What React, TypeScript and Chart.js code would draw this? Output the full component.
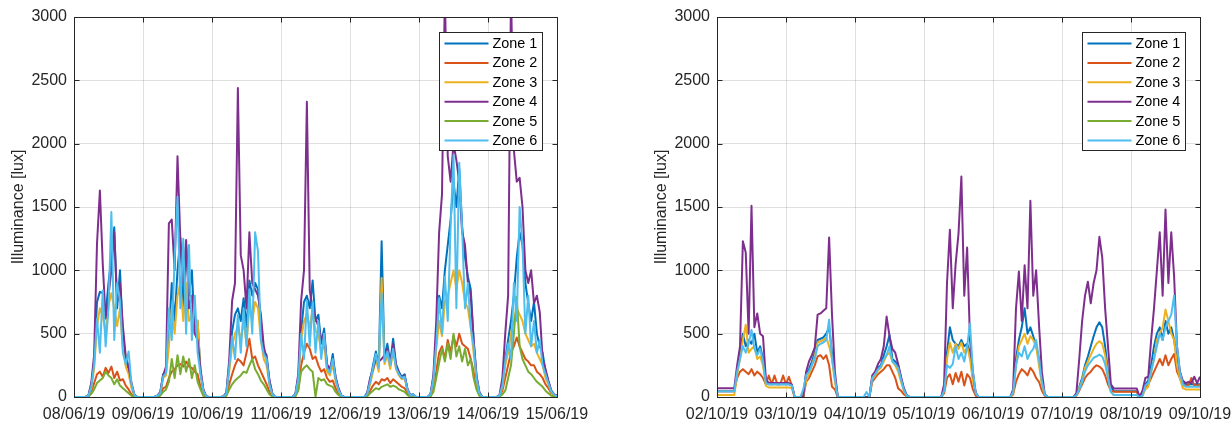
import React, { useEffect, useRef } from "react";
import { Chart, registerables } from "chart.js";

Chart.register(...registerables);

const FONT = '"Liberation Sans", Arial, Helvetica, sans-serif';
const AXIS_COLOR = "#262626";
const GRID_COLOR = "rgba(38,38,38,0.15)";

const zoneNames = ["Zone 1", "Zone 2", "Zone 3", "Zone 4", "Zone 5", "Zone 6"];
const zoneColors = ["#0072BD", "#D95319", "#EDB120", "#7E2F8E", "#77AC30", "#4DBEEE"];
const yAxisTitle = "Illuminance [lux]";
const yMax = 3000;
const yStep = 500;

const junDates = ["08/06/19", "09/06/19", "10/06/19", "11/06/19", "12/06/19", "13/06/19", "14/06/19", "15/06/19"];
const octDates = ["02/10/19", "03/10/19", "04/10/19", "05/10/19", "06/10/19", "07/10/19", "08/10/19", "09/10/19"];

// hourly readings (lux), one line per day
const jun_zone1 = [
  0,0,0,0,0,10,90,280,750,830,820,650,900,1100,1340,700,1000,480,300,220,90,15,0,0,
  0,0,0,0,0,10,30,180,200,480,900,600,1000,1260,700,1200,800,1000,500,600,200,50,5,0,
  0,0,0,0,5,30,250,520,650,700,600,780,550,920,800,900,850,600,360,330,120,25,0,0,
  0,0,0,0,0,20,150,520,750,800,700,920,600,650,420,540,250,200,340,150,60,10,0,0,
  0,0,0,0,0,0,30,130,250,360,250,1230,300,420,270,460,260,200,160,180,60,15,20,0,
  0,0,0,0,20,150,450,800,700,1000,1200,1400,1700,1500,1800,1350,1100,950,850,450,160,35,0,0,
  0,0,0,0,10,100,300,450,600,800,1100,1300,1200,900,740,600,750,500,400,350,200,120,50,20,10,
];
const jun_zone2 = [
  0,0,0,0,0,5,40,110,180,200,160,230,190,240,150,200,130,140,90,60,20,5,0,0,
  0,0,0,0,0,5,15,70,80,150,200,220,250,260,240,280,240,230,200,180,80,20,1,0,
  0,0,0,0,3,15,100,180,250,300,280,250,350,460,300,320,250,200,150,100,40,5,0,0,
  0,0,0,0,0,10,60,250,350,420,380,300,320,250,200,220,150,120,130,70,30,5,0,0,
  0,0,0,0,0,0,10,50,90,120,100,140,130,150,110,140,120,100,80,70,30,5,5,0,
  0,0,0,0,8,60,200,350,400,300,450,350,480,400,500,420,400,380,300,200,80,15,0,0,
  0,0,0,0,5,50,150,250,350,400,470,400,350,300,280,250,250,200,180,150,100,70,30,20,10,
];
const jun_zone3 = [
  0,0,0,0,0,8,70,220,560,700,640,500,720,820,700,560,700,380,240,180,70,10,0,0,
  0,0,0,0,0,8,25,150,170,400,700,500,800,900,600,900,600,650,500,605,180,40,3,0,
  0,0,0,0,4,25,200,400,500,550,450,600,420,700,600,750,700,450,300,250,90,15,0,0,
  0,0,0,0,0,15,120,450,600,650,550,700,520,500,350,420,200,170,260,120,50,8,0,0,
  0,0,0,0,0,0,20,100,200,300,200,940,260,330,220,360,220,170,140,150,50,10,15,0,
  0,0,0,0,15,120,380,600,480,750,800,900,1000,850,1000,900,750,700,550,350,130,25,0,0,
  0,0,0,0,8,80,250,350,500,600,700,650,600,500,450,400,420,350,300,250,150,100,40,15,5,
];
const jun_zone4 = [
  0,0,0,0,0,12,110,330,1210,1630,1050,620,800,1000,1300,760,900,560,320,240,110,20,0,0,
  0,0,0,0,0,10,40,170,240,1370,1400,1000,1900,1230,900,1240,700,800,500,450,220,60,6,0,
  0,0,0,0,5,35,300,760,900,2440,1120,1000,700,1300,900,850,800,650,400,300,130,25,0,0,
  0,0,0,0,0,25,180,760,1000,2330,840,700,620,560,450,500,260,220,300,160,70,12,0,0,
  0,0,0,0,0,0,35,150,220,300,280,300,330,380,260,420,250,190,150,170,60,15,20,0,
  0,0,0,0,25,170,600,1300,1600,3200,1900,1700,2000,1870,1700,1300,1200,900,800,450,170,40,0,0,
  0,0,0,0,15,150,500,800,3200,1950,1700,1730,1500,1000,900,1000,740,800,670,300,220,130,50,20,10,
];
const jun_zone5 = [
  0,0,0,0,0,3,25,60,110,130,150,200,170,150,100,140,90,70,50,30,10,3,0,0,
  0,0,0,0,0,3,10,40,60,120,300,150,330,180,320,200,300,150,250,120,60,10,0,0,
  0,0,0,0,2,10,60,100,130,150,170,200,190,250,300,220,180,130,100,60,20,3,0,0,
  0,0,0,0,0,5,50,200,230,250,220,200,0,150,130,140,100,90,80,40,15,3,0,0,
  0,0,0,0,0,0,5,30,50,70,60,80,90,100,80,90,80,60,50,40,15,3,0,0,
  0,0,0,0,5,40,150,270,380,280,420,300,500,320,400,280,380,250,300,150,60,10,0,0,
  0,0,0,0,3,20,50,150,250,500,790,400,300,250,200,180,150,120,100,80,50,30,10,5,0,
];
const jun_zone6 = [
  0,0,0,0,0,10,80,260,620,350,840,400,700,1460,450,900,760,350,260,360,100,15,0,0,
  0,0,0,0,0,10,30,160,190,700,450,1100,1580,700,1250,500,1200,450,800,350,180,50,5,0,
  0,0,0,0,4,25,240,480,300,650,350,700,400,850,500,1300,1150,450,340,300,100,20,0,0,
  0,0,0,0,0,20,140,500,300,760,400,750,350,600,300,500,230,190,300,140,55,10,0,0,
  0,0,0,0,0,0,25,120,230,340,230,820,280,360,250,380,230,180,150,160,55,12,20,0,
  0,0,0,0,20,140,420,780,500,950,600,1350,1910,700,1850,1320,700,900,550,400,150,30,0,0,
  0,0,0,0,10,90,280,420,300,900,600,1500,1200,500,800,400,600,350,450,250,180,110,45,20,5,
];

const oct_zone1 = [
  45,45,45,45,45,45,45,200,350,500,400,450,420,500,350,400,300,120,100,100,100,100,100,100,
  100,100,90,0,0,0,0,180,220,280,350,450,460,470,500,550,350,150,0,0,0,0,0,0,
  0,0,0,0,0,0,150,180,230,250,330,400,490,300,280,250,150,60,10,0,0,0,0,0,
  0,0,0,0,0,0,0,60,350,550,450,420,400,450,400,420,350,150,30,0,0,0,0,0,
  0,0,0,0,0,0,0,40,300,450,550,700,500,550,480,400,300,120,20,0,0,0,0,0,
  0,0,0,0,0,20,80,150,250,320,400,480,550,590,550,400,200,80,45,45,45,45,45,45,
  45,45,45,0,30,100,130,250,400,500,550,450,600,500,550,450,300,200,110,100,100,100,100,100,100,
];
const oct_zone2 = [
  45,45,45,45,45,45,45,150,200,220,200,180,220,170,200,180,150,100,170,100,170,100,100,170,
  100,160,90,0,0,0,0,120,150,200,250,320,330,300,330,250,80,60,0,0,0,0,0,0,
  0,0,0,0,0,0,120,150,180,200,220,250,250,200,150,68,50,20,5,0,0,0,0,0,
  0,0,0,0,0,0,0,30,150,180,100,190,120,200,90,180,150,60,10,0,0,0,0,0,
  0,0,0,0,0,0,0,20,120,180,220,200,170,230,200,150,120,50,10,0,0,0,0,0,
  0,0,0,0,0,10,50,100,150,180,200,230,250,240,220,170,100,50,42,42,42,42,42,42,
  42,42,42,0,30,80,100,150,200,250,300,250,330,250,300,340,200,150,90,90,90,150,90,90,100,
];
const oct_zone3 = [
  15,15,15,15,15,15,15,180,300,450,570,350,380,400,300,320,250,90,75,75,75,75,75,75,
  75,75,70,0,0,0,0,130,180,250,320,430,440,450,470,400,300,120,0,0,0,0,0,0,
  0,0,0,0,0,0,140,170,210,230,280,330,350,280,250,200,120,50,8,0,0,0,0,0,
  0,0,0,0,0,0,0,50,300,430,350,420,380,430,350,400,300,130,25,0,0,0,0,0,
  0,0,0,0,0,0,0,30,250,400,450,500,420,480,450,400,250,100,15,0,0,0,0,0,
  0,0,0,0,0,15,70,130,230,280,330,380,420,440,420,330,170,40,15,15,15,15,15,15,
  15,15,15,0,10,60,80,200,300,450,500,550,690,600,500,450,250,150,70,60,60,60,60,60,60,
];
const oct_zone4 = [
  70,70,70,70,70,70,70,250,400,1230,1140,500,1510,550,660,500,480,140,110,110,110,110,110,110,
  110,110,100,0,0,0,0,200,280,330,390,650,660,680,700,1260,650,200,0,0,0,0,0,0,
  0,0,0,0,0,0,170,200,260,300,400,635,480,380,350,260,160,70,15,0,0,0,0,0,
  0,0,0,0,0,0,0,100,900,1320,700,1050,1290,1740,800,1180,450,200,30,0,0,0,0,0,
  0,0,0,0,0,0,0,60,700,990,600,1040,700,1550,800,1000,570,200,20,0,0,0,0,0,
  0,0,0,0,0,30,300,600,800,910,740,900,1000,1265,1100,700,400,100,68,68,68,68,68,68,
  68,68,68,0,50,150,160,450,700,1000,1300,800,1480,900,1300,950,400,200,130,110,120,110,160,110,160,
];
const oct_zone5: (number | null)[] = [];
const oct_zone6 = [
  45,45,45,45,45,45,45,200,300,400,350,420,530,380,330,380,280,110,100,100,100,100,100,100,
  100,100,90,0,0,0,60,170,200,250,300,400,420,430,450,610,300,150,0,0,0,0,0,0,
  0,0,0,0,40,0,150,180,220,240,300,330,400,280,260,230,140,55,10,0,0,0,0,0,
  0,0,0,0,0,0,0,50,250,230,260,400,300,350,280,400,580,200,30,0,0,0,0,0,
  0,0,0,0,0,0,0,40,250,350,320,400,300,350,380,450,300,120,20,0,0,0,0,0,
  0,0,0,0,0,15,60,120,200,250,280,310,320,335,320,260,150,40,15,15,15,15,15,15,
  15,15,15,0,10,90,110,200,300,400,500,450,550,600,650,800,400,200,100,80,80,80,80,80,80,
];

const junSeries = [jun_zone1, jun_zone2, jun_zone3, jun_zone4, jun_zone5, jun_zone6];
const octSeries = [oct_zone1, oct_zone2, oct_zone3, oct_zone4, oct_zone5, oct_zone6];

const CANVAS_W = 588;
const CANVAS_H = 423;

const boxLegendPlugin = {
  id: "boxLegend",
  afterDatasetsDraw(chart: any) {
    const { ctx, chartArea, scales } = chart;
    const L = Math.round(chartArea.left) + 0.5;
    const R = Math.round(chartArea.right) + 0.5;
    const T = Math.round(chartArea.top) + 0.5;
    const B = Math.round(chartArea.bottom) + 0.5;
    ctx.save();
    ctx.strokeStyle = AXIS_COLOR;
    ctx.lineWidth = 1;
    ctx.beginPath();
    const tl = 5;
    scales.x.ticks.forEach((t: any) => {
      const px = Math.round(scales.x.getPixelForValue(t.value)) + 0.5;
      ctx.moveTo(px, B);
      ctx.lineTo(px, B - tl);
      ctx.moveTo(px, T);
      ctx.lineTo(px, T + tl);
    });
    scales.y.ticks.forEach((t: any) => {
      const py = Math.round(scales.y.getPixelForValue(t.value)) + 0.5;
      ctx.moveTo(L, py);
      ctx.lineTo(L + tl, py);
      ctx.moveTo(R, py);
      ctx.lineTo(R - tl, py);
    });
    ctx.stroke();
    ctx.strokeRect(L, T, R - L, B - T);
    ctx.restore();
  },
  afterDraw(chart: any) {
    const { ctx, chartArea } = chart;
    const bw = 103;
    const bh = 118;
    const bx = Math.round(chartArea.right - 15 - bw) + 0.5;
    const by = Math.round(chartArea.top + 15) + 0.5;
    ctx.save();
    ctx.fillStyle = "#ffffff";
    ctx.fillRect(bx, by, bw, bh);
    ctx.strokeStyle = AXIS_COLOR;
    ctx.lineWidth = 1;
    ctx.strokeRect(bx, by, bw, bh);
    ctx.font = `14.4px ${FONT}`;
    ctx.textBaseline = "middle";
    ctx.textAlign = "left";
    zoneNames.forEach((name, i) => {
      const cy = by + 11 + i * 19.4;
      ctx.strokeStyle = zoneColors[i];
      ctx.lineWidth = 2;
      ctx.beginPath();
      ctx.moveTo(bx + 5, cy);
      ctx.lineTo(bx + 49, cy);
      ctx.stroke();
      ctx.fillStyle = "#000000";
      ctx.fillText(name, bx + 53, cy + 0.5);
    });
    ctx.restore();
  },
};

function Panel({ series, dates }: { series: (number | null)[][]; dates: string[] }) {
  const ref = useRef<HTMLCanvasElement>(null);
  useEffect(() => {
    if (!ref.current) return;
    const chart = new Chart(ref.current, {
      type: "line",
      data: {
        datasets: series.map((values, i) => ({
          label: zoneNames[i],
          data: values.map((v, h) => ({ x: h, y: v })),
          borderColor: zoneColors[i],
          backgroundColor: zoneColors[i],
          borderWidth: 2,
          pointRadius: 0,
          fill: false,
          tension: 0,
          borderJoinStyle: "round",
          order: zoneNames.length - 1 - i,
        })),
      } as any,
      options: {
        animation: false,
        responsive: false,
        devicePixelRatio: 1,
        events: [],
        layout: { padding: { left: 0, right: 31, top: 17, bottom: 0 } },
        plugins: { legend: { display: false }, tooltip: { enabled: false } },
        scales: {
          x: {
            type: "linear",
            min: 0,
            max: (dates.length - 1) * 24,
            afterFit: (s: any) => {
              s.height = 26;
              s.paddingLeft = 0;
              s.paddingRight = 0;
            },
            grid: { color: GRID_COLOR, drawTicks: false, lineWidth: 1 },
            border: { display: false },
            ticks: {
              stepSize: 24,
              autoSkip: false,
              maxRotation: 0,
              minRotation: 0,
              padding: 8,
              color: AXIS_COLOR,
              font: { family: FONT, size: 16 },
              callback: (v: any) => dates[Math.round(Number(v) / 24)] ?? "",
            },
          },
          y: {
            type: "linear",
            min: 0,
            max: yMax,
            afterFit: (s: any) => {
              s.width = 74;
            },
            grid: { color: GRID_COLOR, drawTicks: false, lineWidth: 1 },
            border: { display: false },
            ticks: {
              stepSize: yStep,
              padding: 7,
              color: AXIS_COLOR,
              font: { family: FONT, size: 16 },
              callback: (v: any) => String(v),
            },
            title: {
              display: true,
              text: yAxisTitle,
              color: AXIS_COLOR,
              font: { family: FONT, size: 16 },
              padding: { top: 9, bottom: 0 },
            },
          },
        },
      } as any,
      plugins: [boxLegendPlugin],
    });
    return () => chart.destroy();
  }, [series, dates]);
  return (
    <canvas
      ref={ref}
      width={CANVAS_W}
      height={CANVAS_H}
      style={{ display: "block", width: CANVAS_W, height: CANVAS_H }}
    />
  );
}

export default function App() {
  useEffect(() => {
    document.body.style.margin = "0";
  }, []);
  return (
    <div style={{ position: "relative", width: 1231, height: 423, overflow: "hidden", background: "#fff" }}>
      <div style={{ position: "absolute", left: 0, top: 0 }}>
        <Panel series={junSeries} dates={junDates} />
      </div>
      <div style={{ position: "absolute", left: 643, top: 0 }}>
        <Panel series={octSeries} dates={octDates} />
      </div>
    </div>
  );
}
